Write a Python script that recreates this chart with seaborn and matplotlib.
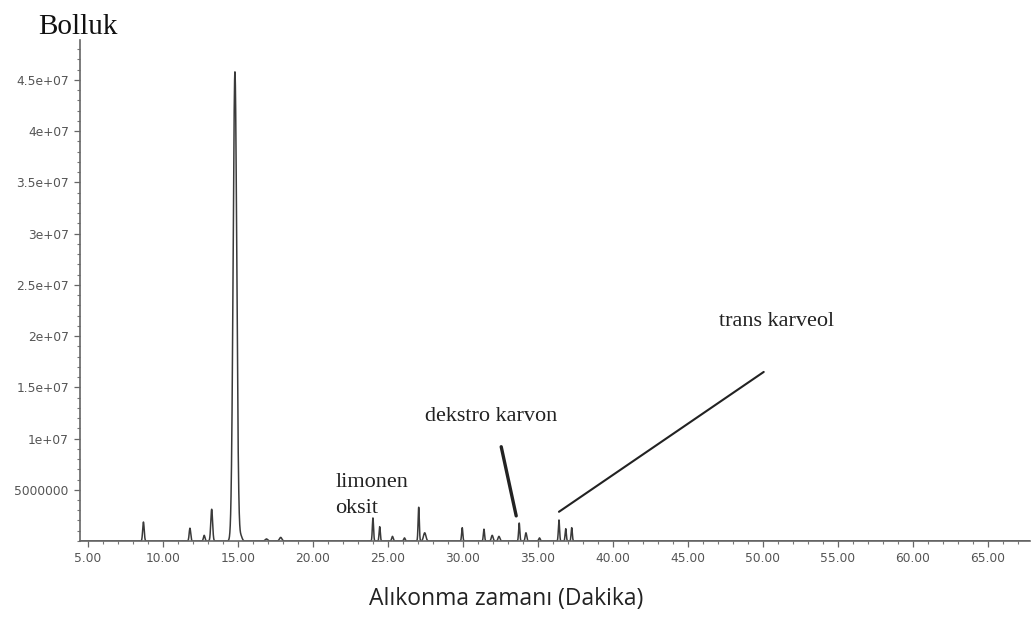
import numpy as np
import pandas as pd
import matplotlib
matplotlib.use("Agg")
import matplotlib.pyplot as plt
from matplotlib.ticker import MultipleLocator, FixedLocator, FuncFormatter
import seaborn as sns

# Peak table of the chromatogram: retention time (min), abundance, peak width (min)
peak_times = [8.70, 11.80, 12.75, 13.25, 14.80, 15.20, 16.9, 17.85, 24.00, 24.45, 25.30, 26.10,
              27.05, 27.45, 29.95, 31.40, 31.95, 32.40, 33.75, 34.20, 35.1, 36.40, 36.85, 37.25]
peak_heights = [1.85e6, 1.25e6, 0.55e6, 3.10e6, 4.58e7, 0.45e6, 0.2e6, 0.35e6, 2.25e6, 1.40e6, 0.45e6, 0.3e6,
                3.30e6, 0.80e6, 1.30e6, 1.15e6, 0.55e6, 0.45e6, 1.75e6, 0.80e6, 0.3e6, 2.05e6, 1.20e6, 1.30e6]
peak_widths = [0.05, 0.05, 0.05, 0.06, 0.12, 0.08, 0.08, 0.08, 0.04, 0.04, 0.05, 0.05,
               0.04, 0.08, 0.04, 0.04, 0.06, 0.06, 0.04, 0.05, 0.05, 0.04, 0.04, 0.04]

# Labelled compounds: text, text anchor (min, abundance), line start and end
labels = ["dekstro karvon", "trans karveol"]
label_pos = [(27.5, 1.17e7), (47.05, 2.1e7)]
line_start = [(32.55, 9.2e6), (50.05, 1.65e7)]
line_end = [(33.55, 2.45e6), (36.40, 2.85e6)]
line_widths = [2.4, 1.5]

x_ticks = [5, 10, 15, 20, 25, 30, 35, 40, 45, 50, 55, 60, 65]
y_ticks = [5e6, 1e7, 1.5e7, 2e7, 2.5e7, 3e7, 3.5e7, 4e7, 4.5e7]
y_tick_labels = ["5000000", "1e+07", "1.5e+07", "2e+07", "2.5e+07", "3e+07", "3.5e+07", "4e+07", "4.5e+07"]

# Build the detector trace from the peak table
t = np.linspace(4.5, 67.8, 12000)
signal = np.zeros_like(t)
for pt, ph, pw in zip(peak_times, peak_heights, peak_widths):
    signal += ph * np.exp(-0.5 * ((t - pt) / pw) ** 2)
trace = pd.DataFrame({"time": t, "abundance": signal})

sns.set_theme(style="white")
fig = plt.figure(figsize=(10.36, 6.17), dpi=100)
ax = fig.add_axes([0.0772, 0.1232, 0.917, 0.812])

sns.lineplot(data=trace, x="time", y="abundance", ax=ax, color="#3a3a3a", linewidth=1.1)

ax.set_xlim(4.47, 67.8)
ax.set_ylim(0, 4.89e7)

ax.xaxis.set_major_locator(FixedLocator(x_ticks))
ax.xaxis.set_major_formatter(FuncFormatter(lambda v, p: f"{v:.2f}"))
ax.xaxis.set_minor_locator(MultipleLocator(1))
ax.yaxis.set_major_locator(FixedLocator(y_ticks))
ax.set_yticklabels(y_tick_labels)
ax.yaxis.set_minor_locator(MultipleLocator(1e6))

ax.tick_params(axis="both", which="major", length=4, width=0.9, color="#666666",
               labelsize=8.8, labelcolor="#555555", direction="out", pad=4, bottom=True, left=True)
ax.tick_params(axis="both", which="minor", length=2, width=0.8, color="#777777",
               direction="out", bottom=True, left=True)

for side in ["top", "right"]:
    ax.spines[side].set_visible(False)
for side in ["left", "bottom"]:
    ax.spines[side].set_color("#666666")
    ax.spines[side].set_linewidth(1.2)

ax.set_xlabel("")
ax.set_ylabel("")
fig.text(506.5 / 1036, 12 / 617, "Alıkonma zamanı (Dakika)", fontsize=16.5, family="Open Sans",
         color="#222222", ha="center", va="baseline")

fig.text(0.037, 0.945, "Bolluk", family="Liberation Serif", fontsize=21, color="#111111",
         ha="left", va="baseline")

ax.text(21.49, 5.27e6, "limonen", family="Liberation Serif", fontsize=16,
        color="#222222", ha="left", va="baseline")
ax.text(21.49, 2.73e6, "oksit", family="Liberation Serif", fontsize=16,
        color="#222222", ha="left", va="baseline")

for txt, pos, s, e, lw in zip(labels, label_pos, line_start, line_end, line_widths):
    ax.text(pos[0], pos[1], txt, family="Liberation Serif", fontsize=16,
            color="#222222", ha="left", va="baseline")
    ax.annotate("", xy=e, xytext=s,
                arrowprops=dict(arrowstyle="-", color="#222222", lw=lw, shrinkA=0, shrinkB=0))

fig.savefig("out.png", dpi=100, facecolor="white")
